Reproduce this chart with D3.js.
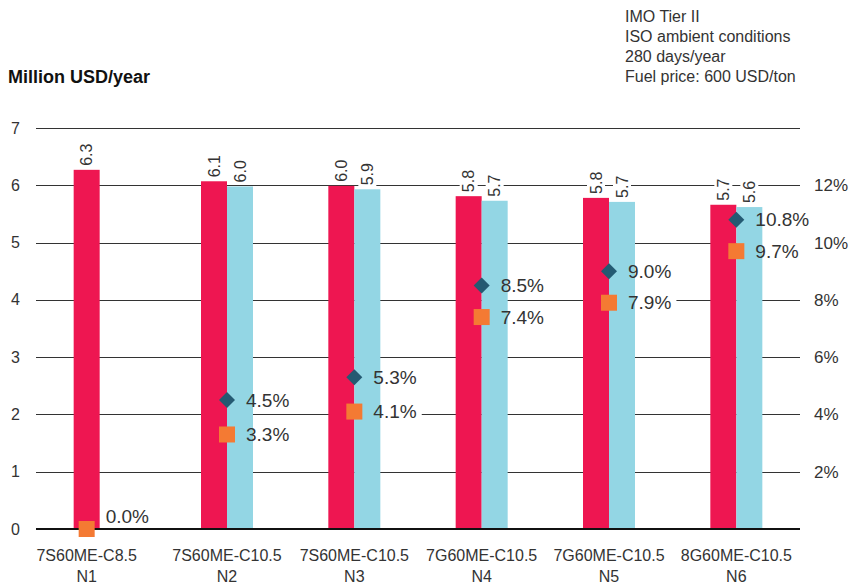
<!DOCTYPE html>
<html><head><meta charset="utf-8">
<script src="https://cdn.jsdelivr.net/npm/d3@7"></script>
<style>
body{margin:0;background:#fff;}
svg{display:block;font-family:"Liberation Sans",Arial,sans-serif;}
</style></head>
<body>
<svg id="chart" width="863" height="585"></svg>
<script>
const categories = ["7S60ME-C8.5","7S60ME-C10.5","7S60ME-C10.5","7G60ME-C10.5","7G60ME-C10.5","8G60ME-C10.5"];
const subLabels = ["N1","N2","N3","N4","N5","N6"];
const redValues = [6.27, 6.07, 5.99, 5.81, 5.78, 5.66];
const blueValues = [null, 5.98, 5.93, 5.73, 5.71, 5.62];
const diamondPct = [null, 4.5, 5.3, 8.5, 9.0, 10.8];
const squarePct = [0.0, 3.3, 4.1, 7.4, 7.9, 9.7];
const leftTicks = [0,1,2,3,4,5,6,7];
const rightTicks = [2,4,6,8,10,12];
const notes = ["IMO Tier II","ISO ambient conditions","280 days/year","Fuel price: 600 USD/ton"];

const RED = "#ee1651", BLUE = "#93d6e4", DIAM = "#245a72", SQ = "#f47a33", TXT = "#333";
const svg = d3.select("#chart");
const y = d3.scaleLinear().domain([0,7]).range([529,128]);
const yR = d3.scaleLinear().domain([0,14]).range([529,128]);
const x = d3.scaleBand().domain(d3.range(categories.length)).range([36,800]).padding(0);
const bw = 26;
const cx = i => x(i) + x.bandwidth()/2;
const groupCenter = i => blueValues[i] == null ? cx(i) - bw/2 : cx(i);

// title
svg.append("text").attr("x",8).attr("y",83).attr("font-size",18).attr("font-weight","bold").attr("fill","#111").text("Million USD/year");
// notes
svg.selectAll(".note").data(notes).enter().append("text")
  .attr("x",625).attr("y",(d,i)=>22+i*20).attr("font-size",16).attr("fill",TXT).text(d=>d);

const leftAxis = d3.axisLeft(y).tickValues(leftTicks).tickSize(0).tickPadding(0).tickFormat(d3.format("d"));
const gL = svg.append("g").attr("transform","translate(20,0)").call(leftAxis);
gL.select(".domain").remove();
gL.selectAll("text").attr("font-size",16).attr("fill",TXT).attr("font-family","Liberation Sans, Arial, sans-serif");
const rightAxis = d3.axisRight(yR).tickValues(rightTicks).tickSize(0).tickPadding(0).tickFormat(d=>d+"%");
const gR = svg.append("g").attr("transform","translate(814,0)").call(rightAxis);
gR.select(".domain").remove();
gR.selectAll("text").attr("font-size",17).attr("fill",TXT).attr("font-family","Liberation Sans, Arial, sans-serif");

// gridlines
svg.append("g").selectAll("line").data(leftTicks.filter(d=>d>0)).enter().append("line")
  .attr("x1",36).attr("x2",800).attr("y1",d=>Math.round(y(d))+0.5).attr("y2",d=>Math.round(y(d))+0.5)
  .attr("stroke","#333").attr("stroke-width",1);

const bgLayer = svg.append("g");
const barLayer = svg.append("g");
const axisLayer = svg.append("g");
const fgLayer = svg.append("g");

// bars
barLayer.selectAll(".red").data(redValues).enter().append("rect")
  .attr("x",(d,i)=>cx(i)-bw).attr("width",bw).attr("y",d=>y(d)).attr("height",d=>y(0)-y(d)).attr("fill",RED);
barLayer.selectAll(".blue").data(blueValues.map((v,i)=>({v,i})).filter(d=>d.v!=null)).enter().append("rect")
  .attr("x",d=>cx(d.i)).attr("width",bw).attr("y",d=>y(d.v)).attr("height",d=>y(0)-y(d.v)).attr("fill",BLUE);

// zero axis
axisLayer.append("line").attr("x1",36).attr("x2",800).attr("y1",529).attr("y2",529).attr("stroke","#111").attr("stroke-width",2);

// rotated value labels
function valLabel(v, xc){
  const t = fgLayer.append("text").attr("transform",`translate(${xc},${y(v)-4}) rotate(-90)`)
    .attr("dy","0.36em").attr("font-size",16).attr("fill",TXT).text(d3.format(".1f")(v));
  const b = t.node().getBBox();
  bgLayer.append("rect").attr("x",xc-9).attr("y",y(v)-4-b.width-2).attr("width",18).attr("height",b.width+4).attr("fill","#fff");
}
redValues.forEach((v,i)=>valLabel(v, cx(i)-bw/2));
blueValues.forEach((v,i)=>{ if(v!=null) valLabel(v, cx(i)+bw/2); });

// markers
function pctLabel(p, xc){
  const ly = Math.min(yR(p), yR(0) - 13);
  const t = fgLayer.append("text").attr("x",xc+19).attr("y",ly).attr("dy","0.35em")
    .attr("font-size",19).attr("fill",TXT).text(d3.format(".1f")(p)+"%");
  const b = t.node().getBBox();
  bgLayer.append("rect").attr("x",b.x-3).attr("y",b.y).attr("width",b.width+8).attr("height",b.height).attr("fill","#fff");
}
diamondPct.forEach((p,i)=>{
  if(p==null) return;
  const xc = groupCenter(i);
  fgLayer.append("path").attr("d",d3.symbol().type(d3.symbolSquare).size(128)())
    .attr("transform",`translate(${xc},${yR(p)}) rotate(45)`).attr("fill",DIAM);
  pctLabel(p, xc);
});
squarePct.forEach((p,i)=>{
  const xc = groupCenter(i);
  fgLayer.append("rect").attr("x",xc-8).attr("y",yR(p)-8).attr("width",16).attr("height",16).attr("fill",SQ);
  pctLabel(p, xc);
});

// category labels
const cat = svg.append("g");
categories.forEach((c,i)=>{
  cat.append("text").attr("x",groupCenter(i)).attr("y",561).attr("text-anchor","middle").attr("font-size",16).attr("fill",TXT).text(c);
  cat.append("text").attr("x",groupCenter(i)).attr("y",582).attr("text-anchor","middle").attr("font-size",16).attr("fill",TXT).text(subLabels[i]);
});
</script>
</body></html>
